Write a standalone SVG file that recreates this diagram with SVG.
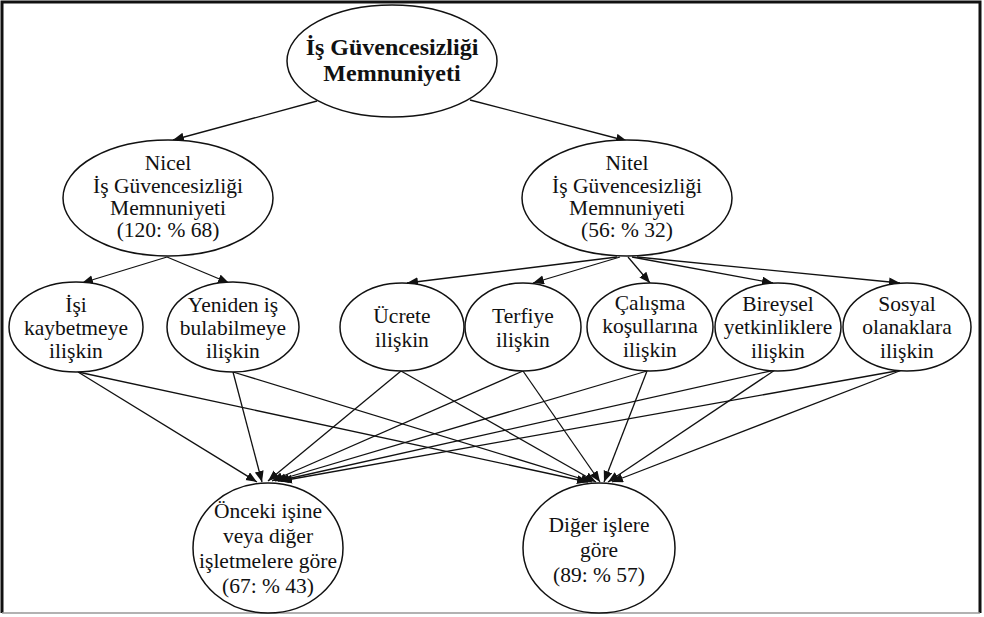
<svg xmlns="http://www.w3.org/2000/svg" width="984" height="617" viewBox="0 0 984 617">
<style>
.n ellipse{fill:#fff;stroke:#111;stroke-width:1.5}
.t{font-family:"Liberation Serif","Times New Roman",serif;font-size:21.5px;fill:#111;text-anchor:middle}
.b{font-weight:bold;font-size:24px}
.e line{stroke:#111;stroke-width:1.3;marker-end:url(#ah)}
</style>
<defs>
<marker id="ah" markerUnits="userSpaceOnUse" markerWidth="12" markerHeight="10" refX="11" refY="4.5" orient="auto">
<path d="M0,0 L11,4.5 L0,9 z" fill="#111"/>
</marker>
</defs>
<rect width="984" height="617" fill="#fff"/>
<path d="M2,613 V2 H980 V613" fill="none" stroke="#111" stroke-width="3"/>
<line x1="2" y1="613" x2="980" y2="613" stroke="#999" stroke-width="1.5"/>
<g class="e" id="connectors">
<line x1="317" y1="101" x2="173" y2="140"/>
<line x1="470" y1="100" x2="627" y2="141"/>
<line x1="167" y1="257" x2="82" y2="283"/>
<line x1="167" y1="257" x2="229" y2="283"/>
<line x1="617" y1="257" x2="407" y2="283"/>
<line x1="620" y1="257" x2="533" y2="283"/>
<line x1="628" y1="257" x2="650" y2="283"/>
<line x1="632" y1="257" x2="773" y2="283"/>
<line x1="637" y1="257" x2="900" y2="283"/>
<line x1="78" y1="372" x2="257" y2="482"/>
<line x1="233" y1="372" x2="262" y2="482"/>
<line x1="401" y1="371" x2="268" y2="481"/>
<line x1="523" y1="371" x2="272" y2="481"/>
<line x1="647" y1="371" x2="275" y2="481"/>
<line x1="775" y1="370" x2="278" y2="481"/>
<line x1="902" y1="370" x2="281" y2="481"/>
<line x1="78" y1="372" x2="588" y2="482"/>
<line x1="233" y1="372" x2="592" y2="482"/>
<line x1="401" y1="371" x2="596" y2="482"/>
<line x1="523" y1="371" x2="600" y2="482"/>
<line x1="647" y1="371" x2="604" y2="482"/>
<line x1="775" y1="370" x2="608" y2="482"/>
<line x1="902" y1="370" x2="612" y2="482"/>
</g>
<g class="n" id="root">
<ellipse cx="392" cy="61" rx="105" ry="56"/>
<text class="t b" x="392" y="55">İş Güvencesizliği</text>
<text class="t b" x="392" y="81">Memnuniyeti</text>
</g>
<g class="n" id="nicel">
<ellipse cx="168" cy="198" rx="105" ry="58"/>
<text class="t" x="168" y="170">Nicel</text>
<text class="t" x="168" y="192.5">İş Güvencesizliği</text>
<text class="t" x="168" y="215">Memnuniyeti</text>
<text class="t" x="168" y="237">(120: % 68)</text>
</g>
<g class="n" id="nitel">
<ellipse cx="627" cy="198" rx="105" ry="58"/>
<text class="t" x="627" y="170">Nitel</text>
<text class="t" x="627" y="192.5">İş Güvencesizliği</text>
<text class="t" x="627" y="215">Memnuniyeti</text>
<text class="t" x="627" y="237">(56: % 32)</text>
</g>
<g class="n" id="isi">
<ellipse cx="76" cy="327" rx="67" ry="45"/>
<text class="t" x="76" y="312">İşi</text>
<text class="t" x="76" y="335">kaybetmeye</text>
<text class="t" x="76" y="358">ilişkin</text>
</g>
<g class="n" id="yeniden">
<ellipse cx="233" cy="327" rx="66" ry="45"/>
<text class="t" x="233" y="312">Yeniden iş</text>
<text class="t" x="233" y="335">bulabilmeye</text>
<text class="t" x="233" y="358">ilişkin</text>
</g>
<g class="n" id="ucrete">
<ellipse cx="402" cy="327" rx="62" ry="44"/>
<text class="t" x="402" y="323">Ücrete</text>
<text class="t" x="402" y="347">ilişkin</text>
</g>
<g class="n" id="terfiye">
<ellipse cx="523" cy="327" rx="58" ry="44"/>
<text class="t" x="523" y="323">Terfiye</text>
<text class="t" x="523" y="347">ilişkin</text>
</g>
<g class="n" id="calisma">
<ellipse cx="650" cy="327" rx="63" ry="44"/>
<text class="t" x="650" y="310">Çalışma</text>
<text class="t" x="650" y="333">koşullarına</text>
<text class="t" x="650" y="357">ilişkin</text>
</g>
<g class="n" id="bireysel">
<ellipse cx="778" cy="327" rx="63" ry="44"/>
<text class="t" x="778" y="311">Bireysel</text>
<text class="t" x="778" y="334">yetkinliklere</text>
<text class="t" x="778" y="358">ilişkin</text>
</g>
<g class="n" id="sosyal">
<ellipse cx="907" cy="327" rx="64" ry="44"/>
<text class="t" x="907" y="311">Sosyal</text>
<text class="t" x="907" y="334">olanaklara</text>
<text class="t" x="907" y="358">ilişkin</text>
</g>
<g class="n" id="onceki">
<ellipse cx="268" cy="548" rx="75" ry="65"/>
<text class="t" x="268" y="518">Önceki işine</text>
<text class="t" x="268" y="543">veya diğer</text>
<text class="t" x="268" y="568">işletmelere göre</text>
<text class="t" x="268" y="593">(67: % 43)</text>
</g>
<g class="n" id="diger">
<ellipse cx="599" cy="548" rx="76" ry="65"/>
<text class="t" x="599" y="532">Diğer işlere</text>
<text class="t" x="599" y="557">göre</text>
<text class="t" x="599" y="582">(89: % 57)</text>
</g>
</svg>
